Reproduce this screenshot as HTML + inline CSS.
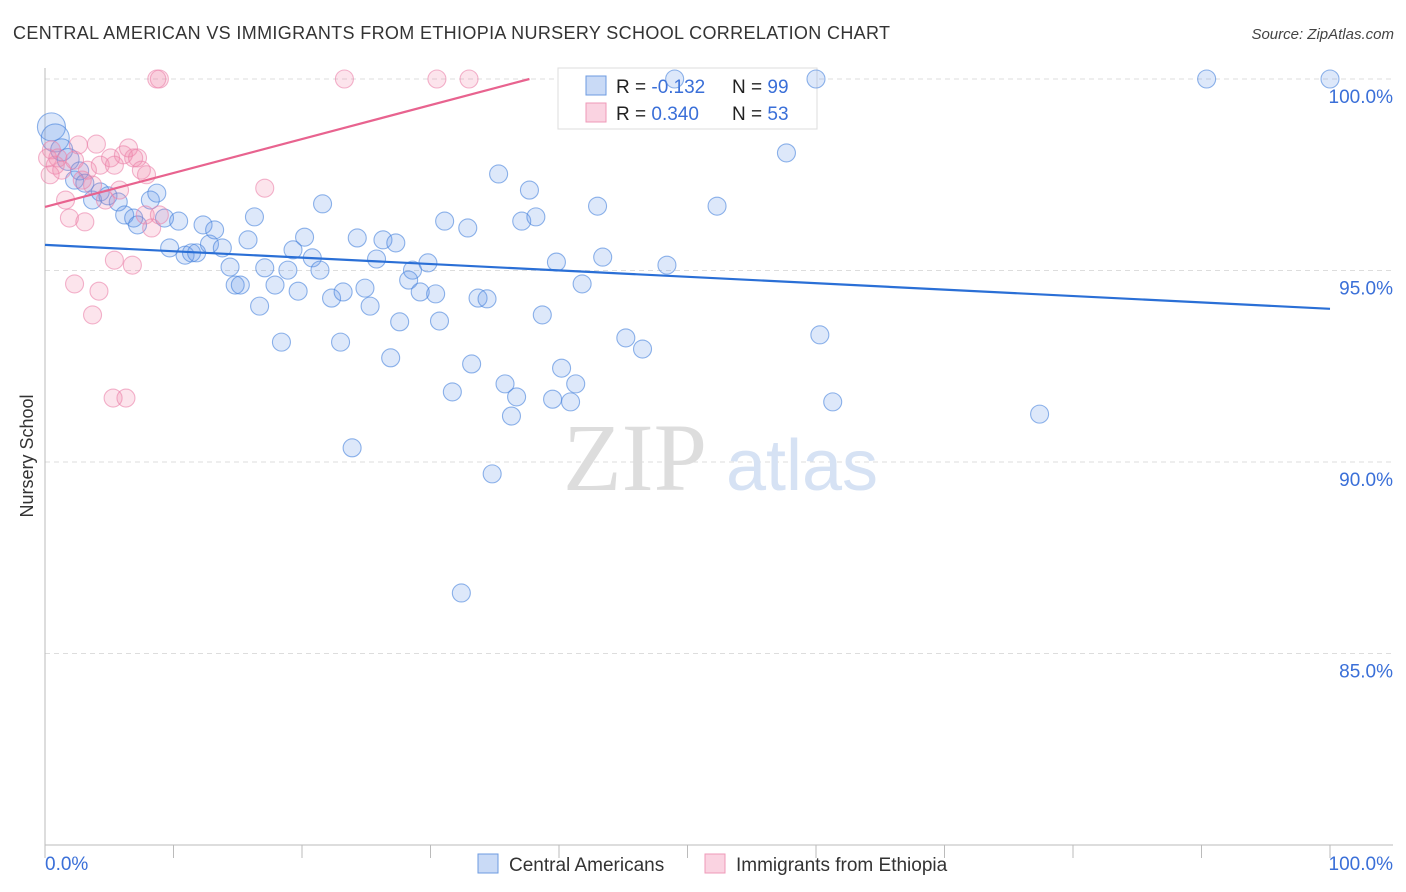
<!DOCTYPE html>
<html><head><meta charset="utf-8"><style>
body{margin:0;background:#fff;font-family:"Liberation Sans",sans-serif;}
svg{display:block}
</style></head><body>
<svg id="chart" width="1406" height="892" xmlns="http://www.w3.org/2000/svg">
<text x="13" y="39" font-size="18" fill="#333" letter-spacing="0.35">CENTRAL AMERICAN VS IMMIGRANTS FROM ETHIOPIA NURSERY SCHOOL CORRELATION CHART</text>
<text x="1394" y="39" font-size="15" fill="#444" text-anchor="end" font-style="italic">Source: ZipAtlas.com</text>
<text transform="translate(33,456) rotate(-90)" font-size="18" fill="#333" text-anchor="middle">Nursery School</text>
<g id="grid"></g>
<g id="wm">
<text x="635" y="490" font-size="96" fill="#ddd" font-family="Liberation Serif,serif" text-anchor="middle">ZIP</text>
<text x="802" y="490" font-size="72" fill="#d6e2f4" text-anchor="middle">atlas</text>
</g>
<g id="axes"></g>
<g>
<rect x="558" y="68" width="259" height="61" fill="#fff" stroke="#ddd"/>
<rect x="586" y="76" width="20" height="19" fill="rgba(100,150,230,0.35)" stroke="#6d9be0"/>
<rect x="586" y="103" width="20" height="19" fill="rgba(240,130,170,0.35)" stroke="#ef9ab8"/>
<text x="616" y="93" font-size="19" fill="#222">R = <tspan fill="#3a6fd8">-0.132</tspan></text>
<text x="732" y="93" font-size="19" fill="#222">N = <tspan fill="#3a6fd8">99</tspan></text>
<text x="616" y="120" font-size="19" fill="#222">R = <tspan fill="#3a6fd8"> 0.340</tspan></text>
<text x="732" y="120" font-size="19" fill="#222">N = <tspan fill="#3a6fd8">53</tspan></text>
</g>
<g id="pts"></g>
<g id="lines"></g>
<g>
<rect x="478" y="854" width="20" height="19" fill="rgba(100,150,230,0.35)" stroke="#6d9be0"/>
<text x="509" y="871" font-size="19" fill="#333">Central Americans</text>
<rect x="705" y="854" width="20" height="19" fill="rgba(240,130,170,0.35)" stroke="#ef9ab8"/>
<text x="736" y="871" font-size="19" fill="#333">Immigrants from Ethiopia</text>
</g>
</svg>
<script>
const yTicks=[100,95,90,85];
const yTickLabels=["100.0%","95.0%","90.0%","85.0%"];
const xTickLabels=["0.0%","100.0%"];
const blueX=[0.5,0.8,1.3,1.8,2.3,2.7,3.1,3.7,4.3,4.9,5.7,6.2,6.9,7.2,8.2,8.7,9.3,9.7,10.4,10.9,11.4,11.8,12.3,12.8,13.2,13.8,14.4,14.8,15.2,15.8,16.3,16.7,17.1,17.9,18.4,18.9,19.3,19.7,20.2,20.8,21.4,21.6,22.3,23.0,23.2,23.9,24.3,24.9,25.3,25.8,26.3,26.9,27.3,27.6,28.3,28.6,29.2,29.8,30.4,30.7,31.1,31.7,32.4,32.9,33.2,33.7,34.4,34.8,35.3,35.8,36.3,36.7,37.1,37.7,38.2,38.7,39.5,39.8,40.2,40.9,41.3,41.8,43.0,43.4,45.2,46.5,48.4,49.0,52.3,57.7,60.0,60.3,61.3,77.4,90.4,100];
const blueY=[98.75,98.46,98.15,97.9,97.36,97.6,97.28,96.84,97.05,96.95,96.79,96.45,96.37,96.19,96.84,97.02,96.37,95.59,96.29,95.4,95.46,95.46,96.19,95.69,96.06,95.59,95.09,94.62,94.62,95.8,96.4,94.07,95.07,94.62,93.13,95.01,95.54,94.46,95.87,95.33,95.01,96.74,94.28,93.13,94.44,90.37,95.85,94.54,94.07,95.3,95.8,92.72,95.72,93.66,94.75,95.01,94.44,95.2,94.39,93.68,96.29,91.83,86.58,96.11,92.56,94.28,94.26,89.69,97.52,92.04,91.2,91.7,96.29,97.1,96.4,93.84,91.64,95.22,92.45,91.57,92.04,94.65,96.68,95.35,93.24,92.95,95.14,100,96.68,98.07,100,93.32,91.57,91.25,100,100];
const pinkX=[8.9,8.7,23.3,30.5,33.0,0.2,0.5,0.8,0.4,1.0,1.3,1.6,1.9,2.3,2.6,2.9,3.1,3.3,3.7,4.0,4.3,4.7,5.1,5.4,5.8,6.1,6.5,6.9,7.2,7.5,7.9,8.3,8.9,5.4,6.8,2.3,4.2,3.7,5.3,6.3,17.1,7.8];
const pinkY=[100,100,100,100,100,97.94,98.15,97.75,97.5,97.94,97.62,96.84,96.37,97.88,98.28,97.36,96.27,97.62,97.23,98.3,97.75,96.84,97.94,97.75,97.1,98.02,98.2,97.94,97.94,97.62,97.5,96.11,96.45,95.27,95.14,94.65,94.46,93.84,91.67,91.67,97.15,96.45];
const blueTrend=[95.67,94.0];
const pinkTrend=[96.66,100];
const NS="http://www.w3.org/2000/svg";
const X=v=>45+v*12.85, Y=v=>79+(100-v)*38.3;
function mk(t,a,p){const e=document.createElementNS(NS,t);for(const k in a)e.setAttribute(k,a[k]);document.getElementById(p).appendChild(e);return e;}
yTicks.forEach((t,i)=>{
 const l=mk('line',{x1:45,x2:1393,y1:Y(t),y2:Y(t),stroke:'#ddd','stroke-dasharray':'5,4'},'grid');
 
 
 const tx=mk('text',{x:1393,y:Y(t)+24,'font-size':19,fill:'#3a6fd8','text-anchor':'end'},'axes');
 tx.textContent=yTickLabels[i];
 
 
});
mk('line',{x1:45,x2:45,y1:68,y2:845,stroke:'#bbb'},'axes');
mk('line',{x1:45,x2:1393,y1:845,y2:845,stroke:'#bbb'},'axes');
for(let i=0;i<=10;i++){const t=mk('line',{x1:X(i*10),x2:X(i*10),y1:845,y2:858,stroke:'#bbb'},'axes');
 
 }
[[0,'start',45],[1,'end',1393]].forEach(([i,a,x])=>{const t=mk('text',{x:x,y:870,'font-size':19,fill:'#3a6fd8','text-anchor':a},'axes');t.textContent=xTickLabels[i];
 
 });
blueX.forEach((x,i)=>{const r=i<2?14:(i<4?11:9);
 const c=mk('circle',{cx:X(x),cy:Y(blueY[i]),r:r,fill:'rgba(100,150,230,0.22)',stroke:'rgba(70,130,220,0.6)','stroke-width':1.1},'pts');
 
 });
pinkX.forEach((x,i)=>{
 const c=mk('circle',{cx:X(x),cy:Y(pinkY[i]),r:9,fill:'rgba(240,130,170,0.22)',stroke:'rgba(235,130,170,0.6)','stroke-width':1.1},'pts');
 
 });
const bl=mk('line',{x1:X(0),y1:Y(blueTrend[0]),x2:X(100),y2:Y(blueTrend[1]),stroke:'#2a6fd6','stroke-width':2.2},'lines');


const pe=37.7;
const pl=mk('line',{x1:X(0),y1:Y(pinkTrend[0]),x2:X(pe),y2:Y(pinkTrend[1]),stroke:'#e8638f','stroke-width':2.2},'lines');


</script>
</body></html>
